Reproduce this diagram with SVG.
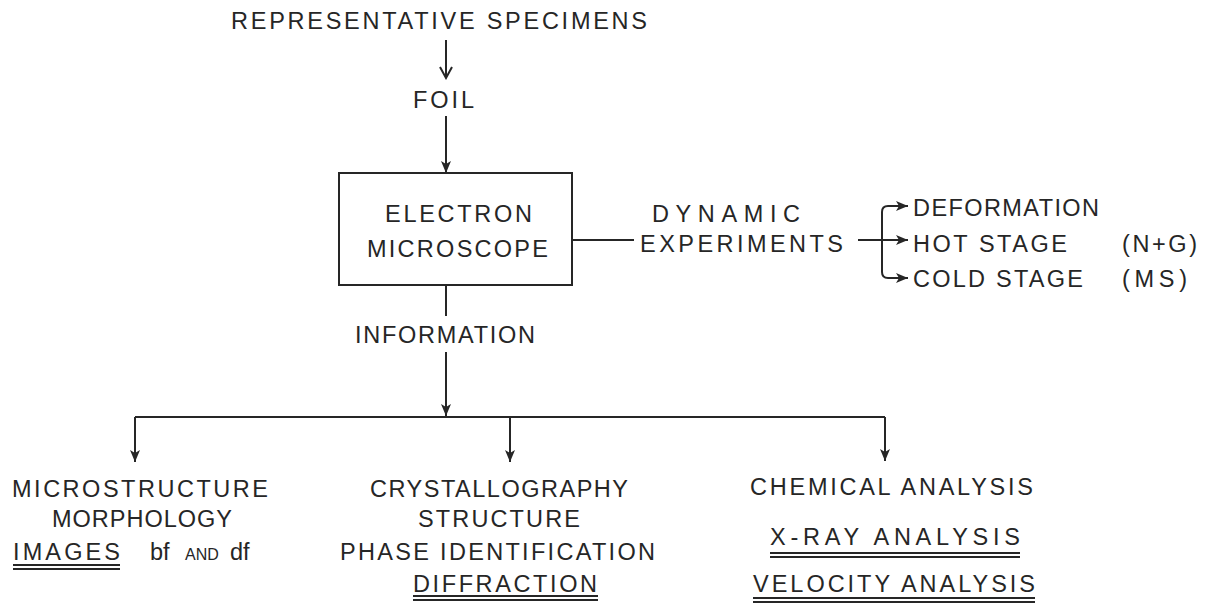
<svg xmlns="http://www.w3.org/2000/svg" width="1215" height="605" viewBox="0 0 1215 605">
<style>
text{font-family:"Liberation Sans",Arial,sans-serif;font-size:23.5px;fill:#262626;}
.ln{stroke:#262626;stroke-width:2;fill:none;}
.ul{stroke:#262626;stroke-width:1.8;fill:none;}
.sc{font-size:16px;}
</style>
<defs>
<marker id="ah" markerUnits="userSpaceOnUse" markerWidth="14" markerHeight="12" refX="12" refY="6" orient="auto">
<path d="M0,1 L12,6 L0,11 L3,6 Z" fill="#262626"/>
</marker>
<marker id="ao" markerUnits="userSpaceOnUse" markerWidth="14" markerHeight="14" refX="12" refY="7" orient="auto">
<path d="M1,1 L12,7 L1,13" fill="none" stroke="#262626" stroke-width="2"/>
</marker>
</defs>
<rect width="1215" height="605" fill="#ffffff"/>
<g id="connectors">
<line class="ln" x1="446" y1="40" x2="446" y2="78" marker-end="url(#ao)"/>
<line class="ln" x1="446" y1="116" x2="446" y2="173" marker-end="url(#ah)"/>
<line class="ln" x1="446" y1="285" x2="446" y2="316"/>
<line class="ln" x1="446" y1="352" x2="446" y2="416" marker-end="url(#ah)"/>
<line class="ln" x1="135" y1="417" x2="885" y2="417"/>
<line class="ln" x1="135" y1="417" x2="135" y2="462" marker-end="url(#ah)"/>
<line class="ln" x1="510" y1="417" x2="510" y2="462" marker-end="url(#ah)"/>
<line class="ln" x1="885" y1="417" x2="885" y2="461" marker-end="url(#ah)"/>
<line class="ln" x1="572" y1="240" x2="634" y2="240"/>
<line class="ln" x1="858" y1="240" x2="908" y2="240" marker-end="url(#ah)"/>
<path class="ln" d="M882,240 V212 Q882,206 888,206 H908" marker-end="url(#ah)"/>
<path class="ln" d="M882,240 V272 Q882,278 888,278 H908" marker-end="url(#ah)"/>
</g>
<g id="specimens"><text x="231" y="29" textLength="416" lengthAdjust="spacing">REPRESENTATIVE SPECIMENS</text></g>
<g id="foil"><text x="413" y="108" textLength="61" lengthAdjust="spacing">FOIL</text></g>
<g id="microscope">
<rect class="ln" x="339" y="173" width="233" height="112"/>
<text x="385" y="222" textLength="147" lengthAdjust="spacing">ELECTRON</text>
<text x="367" y="257" textLength="181" lengthAdjust="spacing">MICROSCOPE</text>
</g>
<g id="information"><text x="355" y="343" textLength="180" lengthAdjust="spacing">INFORMATION</text></g>
<g id="dynamic">
<text x="652" y="222" textLength="148" lengthAdjust="spacing">DYNAMIC</text>
<text x="640" y="252" textLength="203" lengthAdjust="spacing">EXPERIMENTS</text>
</g>
<g id="deformation"><text x="913" y="216" textLength="186" lengthAdjust="spacing">DEFORMATION</text></g>
<g id="hotstage">
<text x="913" y="252" textLength="154" lengthAdjust="spacing">HOT STAGE</text>
<text x="1122" y="252" textLength="75" lengthAdjust="spacing">(N+G)</text>
</g>
<g id="coldstage">
<text x="913" y="287" textLength="170" lengthAdjust="spacing">COLD STAGE</text>
<text x="1122" y="287" textLength="65" lengthAdjust="spacing">(MS)</text>
</g>
<g id="microstructure">
<text x="12" y="497" textLength="256" lengthAdjust="spacing">MICROSTRUCTURE</text>
<text x="52" y="527" textLength="180" lengthAdjust="spacing">MORPHOLOGY</text>
<text x="13" y="560" textLength="107" lengthAdjust="spacing">IMAGES</text>
<text x="150" y="560">bf</text>
<text class="sc" x="185" y="560">AND</text>
<text x="230" y="560">df</text>
<line class="ul" x1="13" y1="565" x2="120" y2="565"/>
<line class="ul" x1="13" y1="569" x2="120" y2="569"/>
</g>
<g id="crystallography">
<text x="370" y="497" textLength="258" lengthAdjust="spacing">CRYSTALLOGRAPHY</text>
<text x="418" y="527" textLength="162" lengthAdjust="spacing">STRUCTURE</text>
<text x="340" y="560" textLength="315" lengthAdjust="spacing">PHASE IDENTIFICATION</text>
<text x="413" y="592" textLength="184" lengthAdjust="spacing">DIFFRACTION</text>
<line class="ul" x1="413" y1="596" x2="598" y2="596"/>
<line class="ul" x1="413" y1="600" x2="598" y2="600"/>
</g>
<g id="chemical">
<text x="750" y="495" textLength="283" lengthAdjust="spacing">CHEMICAL ANALYSIS</text>
<text x="770" y="545" textLength="250" lengthAdjust="spacing">X-RAY ANALYSIS</text>
<line class="ul" x1="770" y1="553" x2="1020" y2="553"/>
<line class="ul" x1="770" y1="557" x2="1020" y2="557"/>
<text x="753" y="592" textLength="282" lengthAdjust="spacing">VELOCITY ANALYSIS</text>
<line class="ul" x1="753" y1="598" x2="1035" y2="598"/>
<line class="ul" x1="753" y1="602" x2="1035" y2="602"/>
</g>
</svg>
